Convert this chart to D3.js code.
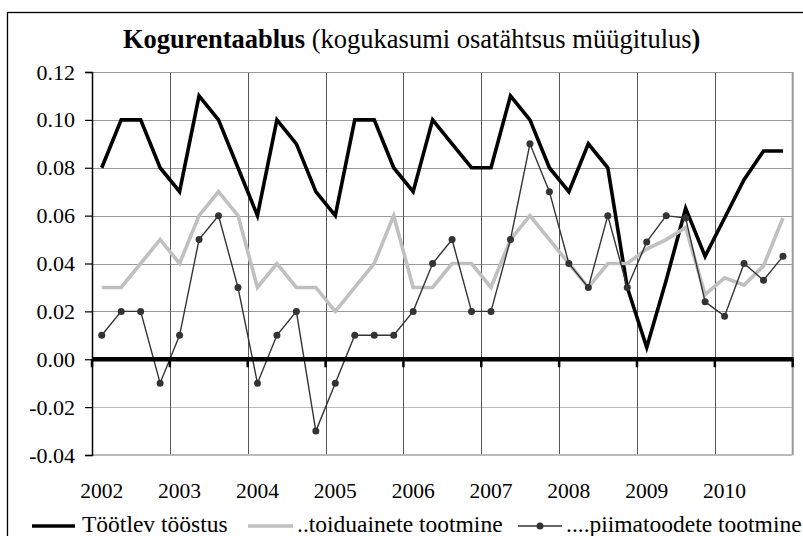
<!DOCTYPE html>
<html>
<head>
<meta charset="utf-8">
<style>
  body { margin: 0; background: #fff; }
</style>
</head>
<body>
<svg width="803" height="536" font-family="Liberation Serif"></svg>
<script src="https://d3js.org/d3.v7.min.js"></script>
<script>
// quarterly data 2002..2010
var years = [2002, 2003, 2004, 2005, 2006, 2007, 2008, 2009, 2010];
var quarters = ["I", "II", "III", "IV"];
var yTicks = [-0.04, -0.02, 0.00, 0.02, 0.04, 0.06, 0.08, 0.10, 0.12];

var toostus = [0.08, 0.10, 0.10, 0.08, 0.07, 0.11, 0.10, 0.08, 0.06, 0.10, 0.09, 0.07,
               0.06, 0.10, 0.10, 0.08, 0.07, 0.10, 0.09, 0.08, 0.08, 0.11, 0.10, 0.08,
               0.07, 0.09, 0.08, 0.03, 0.005, 0.033, 0.063, 0.043, 0.059, 0.075, 0.087, 0.087];
var toiduained = [0.03, 0.03, 0.04, 0.05, 0.04, 0.06, 0.07, 0.06, 0.03, 0.04, 0.03, 0.03,
                  0.02, 0.03, 0.04, 0.06, 0.03, 0.03, 0.04, 0.04, 0.03, 0.05, 0.06, 0.05,
                  0.04, 0.03, 0.04, 0.04, 0.046, 0.050, 0.055, 0.027, 0.034, 0.031, 0.039, 0.059];
var piimatooted = [0.01, 0.02, 0.02, -0.01, 0.01, 0.05, 0.06, 0.03, -0.01, 0.01, 0.02, -0.03,
                   -0.01, 0.01, 0.01, 0.01, 0.02, 0.04, 0.05, 0.02, 0.02, 0.05, 0.09, 0.07,
                   0.04, 0.03, 0.06, 0.03, 0.049, 0.060, 0.059, 0.024, 0.018, 0.040, 0.033, 0.043];

var seriesNames = ["Töötlev tööstus", "..toiduainete tootmine", "....piimatoodete tootmine"];

var categories = [];
years.forEach(function(y){ quarters.forEach(function(q){ categories.push(y + " " + q); }); });

var FONT = "Liberation Serif";
var svg = d3.select("svg");
var plotLeft = 92, plotRight = 792.7, plotTop = 72, plotBottom = 455;

// outer chart border (cropped at right/bottom)
svg.append("rect").attr("x", 7.5).attr("y", 12.5).attr("width", 830).attr("height", 560)
  .attr("fill", "none").attr("stroke", "#000").attr("stroke-width", 1.3);

var x = d3.scaleBand().domain(categories).range([plotLeft, plotRight]).padding(0);
var y = d3.scaleLinear().domain([-0.04, 0.12]).range([plotBottom, plotTop]);

// horizontal gridlines
svg.append("g").selectAll("line").data(yTicks.filter(function(d){ return d !== 0 && d !== -0.04 && d !== 0.12; }))
  .enter().append("line")
  .attr("x1", plotLeft).attr("x2", plotRight)
  .attr("y1", function(d){ return Math.round(y(d)) + 0.5; })
  .attr("y2", function(d){ return Math.round(y(d)) + 0.5; })
  .attr("stroke", function(d){ return d < 0 ? "#bbb" : "#999"; }).attr("stroke-width", 1);

// vertical gridlines at year boundaries
var yearStarts = years.slice(1).map(function(yr){ return x(yr + " I"); });
svg.append("g").selectAll("line").data(yearStarts).enter().append("line")
  .attr("x1", function(d){ return Math.round(d) + 0.5; })
  .attr("x2", function(d){ return Math.round(d) + 0.5; })
  .attr("y1", plotTop).attr("y2", plotBottom)
  .attr("stroke", "#555").attr("stroke-width", 1);

// plot border
svg.append("line").attr("x1", plotLeft).attr("x2", plotRight).attr("y1", plotTop + 0.5).attr("y2", plotTop + 0.5)
  .attr("stroke", "#999").attr("stroke-width", 1);
svg.append("line").attr("x1", plotRight).attr("x2", plotRight).attr("y1", plotTop).attr("y2", plotBottom)
  .attr("stroke", "#999").attr("stroke-width", 2);
svg.append("line").attr("x1", plotLeft).attr("x2", plotRight).attr("y1", plotBottom).attr("y2", plotBottom)
  .attr("stroke", "#bbb").attr("stroke-width", 2);

// left axis
var yAxis = d3.axisLeft(y).tickValues(yTicks).tickSize(7).tickPadding(10)
  .tickFormat(function(d){ return d3.format(".2f")(d).replace("\u2212", "-"); });
var ya = svg.append("g").attr("transform", "translate(" + plotLeft + ",0)").call(yAxis);
ya.attr("font-family", FONT).attr("font-size", 22);
ya.select(".domain").attr("stroke", "#000").attr("stroke-width", 1.5);
ya.selectAll(".tick line").attr("stroke", "#000").attr("stroke-width", 1.2);
ya.selectAll(".tick text").attr("font-family", FONT).attr("font-size", 22).attr("fill", "#000");

// series lines
function lineFor(vals){
  return d3.line().x(function(d, i){ return x(categories[i]) + x.bandwidth() / 2; })
    .y(function(d){ return y(d); })(vals);
}
svg.append("path").attr("d", lineFor(toostus)).attr("fill", "none")
  .attr("stroke", "#000").attr("stroke-width", 3.6).attr("stroke-linejoin", "miter");
svg.append("path").attr("d", lineFor(toiduained)).attr("fill", "none")
  .attr("stroke", "#c0c0c0").attr("stroke-width", 3.6).attr("stroke-linejoin", "miter");
svg.append("path").attr("d", lineFor(piimatooted)).attr("fill", "none")
  .attr("stroke", "#333").attr("stroke-width", 1.4);
svg.append("g").selectAll("circle").data(piimatooted).enter().append("circle")
  .attr("cx", function(d, i){ return x(categories[i]) + x.bandwidth() / 2; })
  .attr("cy", function(d){ return y(d); })
  .attr("r", 3.5).attr("fill", "#333");

// zero axis with year tick marks
svg.append("line").attr("x1", plotLeft).attr("x2", plotRight + 1).attr("y1", y(0)).attr("y2", y(0))
  .attr("stroke", "#000").attr("stroke-width", 4.5);
svg.append("g").selectAll("line").data([plotLeft].concat(yearStarts).concat([plotRight]))
  .enter().append("line")
  .attr("x1", function(d){ return d; }).attr("x2", function(d){ return d; })
  .attr("y1", y(0)).attr("y2", y(0) + 8)
  .attr("stroke", "#000").attr("stroke-width", 2.5);

// year labels (at the first quarter of each year)
svg.append("g").selectAll("text").data(years).enter().append("text")
  .attr("x", function(d){ return x(d + " I") + x.bandwidth() / 2; })
  .attr("y", 498).attr("text-anchor", "middle")
  .attr("font-family", FONT).attr("font-size", 21.5)
  .text(function(d){ return d; });

// title
var title = svg.append("text").attr("x", 123).attr("y", 48)
  .attr("font-family", FONT).attr("font-size", 26.5);
title.append("tspan").attr("font-weight", "bold").text("Kogurentaablus");
title.append("tspan").text(" (kogukasumi osatähtsus müügitulus");
title.append("tspan").attr("font-weight", "bold").text(")");

// legend
var legend = [
  {name: seriesNames[0], x1: 32, x2: 75, tx: 82, color: "#000", w: 3.6, marker: false},
  {name: seriesNames[1], x1: 248, x2: 293, tx: 297, color: "#c0c0c0", w: 3.6, marker: false},
  {name: seriesNames[2], x1: 518, x2: 562, tx: 566, color: "#333", w: 1.4, marker: true}
];
var lg = svg.append("g").selectAll("g").data(legend).enter().append("g");
lg.append("line").attr("x1", function(d){ return d.x1; }).attr("x2", function(d){ return d.x2; })
  .attr("y1", 526).attr("y2", 526)
  .attr("stroke", function(d){ return d.color; }).attr("stroke-width", function(d){ return d.w; });
lg.filter(function(d){ return d.marker; }).append("circle")
  .attr("cx", function(d){ return (d.x1 + d.x2) / 2; }).attr("cy", 526).attr("r", 3.5).attr("fill", "#333");
lg.append("text").attr("x", function(d){ return d.tx; }).attr("y", 532)
  .attr("font-family", FONT).attr("font-size", 23.5)
  .text(function(d){ return d.name; });
</script>
</body>
</html>
